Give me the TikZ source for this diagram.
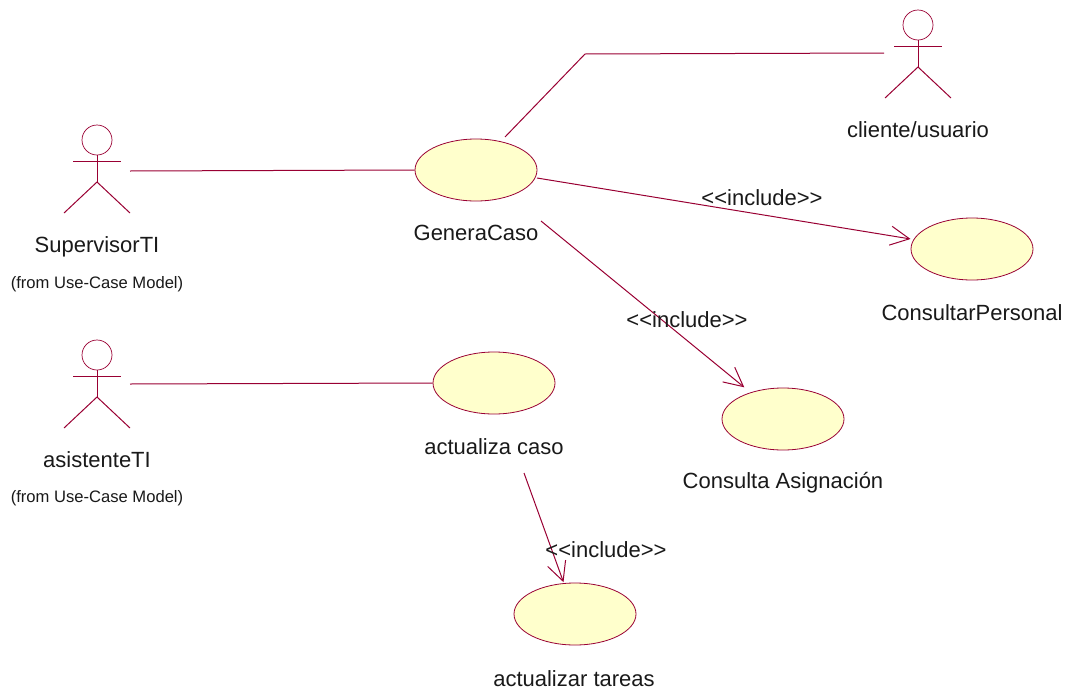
\documentclass[tikz,border=0pt]{standalone}
\usepackage{fontspec}
\setmainfont{Liberation Sans}
\usepackage{xcolor}
\usetikzlibrary{shapes}
\usetikzlibrary{arrows.meta}
\usetikzlibrary{calc}
\definecolor{umlline}{HTML}{990033}
\definecolor{umlfill}{HTML}{FFFFCC}
\tikzset{myline/.style={draw=umlline, line width=1pt}}
\tikzset{myhead/.style={myline, circle, minimum size=30pt, inner sep=0pt, line width=0.7pt}}
\tikzset{mycase/.style={myline, ellipse, fill=umlfill, minimum width=122pt, minimum height=62pt, inner sep=0pt, line width=0.8pt}}
\tikzset{mylabel/.style={font=\fontsize{22}{24}\selectfont, inner sep=0pt, text=black!90}}
\tikzset{myfrom/.style={font=\fontsize{16.6}{19}\selectfont, inner sep=0pt, text=black!90}}
\tikzset{myinclude/.style={myline, -{Straight Barb[length=19pt, width=19pt, line width=1pt]}}}
\begin{document}
\begin{tikzpicture}[x=1pt, y=-1pt]

\useasboundingbox (0,0) rectangle (1072,691);

\foreach \name/\x/\y in {supervisor/97/140, asistente/97/355, cliente/918/25} {
  \node[myhead] (\name head) at (\x, \y) {};
  \coordinate (\name neck) at (\x, \y+15);
  \coordinate (\name hip) at (\x, \y+42);
  \coordinate (\name armL) at (\x-24, \y+21);
  \coordinate (\name armR) at (\x+24, \y+21);
  \coordinate (\name legL) at (\x-33, \y+73);
  \coordinate (\name legR) at (\x+33, \y+73);
  \draw[myline] (\name neck) -- (\name hip);
  \draw[myline] (\name armL) -- (\name armR);
  \draw[myline] (\name legL) -- (\name hip) -- (\name legR);
}

\node[mycase] (generaCaso) at (476, 170) {};
\node[mycase] (actualizaCaso) at (494, 383) {};
\node[mycase] (consultarPersonal) at (972, 249) {};
\node[mycase] (consultaAsignacion) at (783, 419) {};
\node[mycase] (actualizarTareas) at (575, 614) {};

\node[mylabel] (supervisorLbl) at (97, 247) {SupervisorTI};
\node[myfrom] (supervisorFrom) at (97, 284) {(from Use-Case Model)};
\node[mylabel] (asistenteLbl) at (97, 460) {asistenteTI};
\node[myfrom] (asistenteFrom) at (97, 498) {(from Use-Case Model)};
\node[mylabel] (clienteLbl) at (918, 130) {cliente/usuario};
\node[mylabel] (generaLbl) at (476, 233) {GeneraCaso};
\node[mylabel] (actualizaLbl) at (494, 447) {actualiza caso};
\node[mylabel] (consultarLbl) at (972, 313) {ConsultarPersonal};
\node[mylabel] (consultaLbl) at (783, 483) {Consulta Asignación};
\node[mylabel] (tareasLbl) at (574, 679) {actualizar tareas};

\coordinate (supervisorEnd) at (130, 171);
\coordinate (asistenteEnd) at (130, 384);
\coordinate (clienteEnd) at (884, 53);
\coordinate (generaTop) at (505, 137);
\coordinate (clienteBend) at (585, 54);
\coordinate (generaRight) at (537, 178);
\coordinate (generaBelow) at (541, 221);
\coordinate (actualizaBelow) at (524, 473);

\draw[myline] (supervisorEnd) -- (generaCaso.west);
\draw[myline] (asistenteEnd) -- (actualizaCaso.west);
\draw[myline] (generaTop) -- (clienteBend) -- (clienteEnd);

\draw[myinclude, shorten >=3pt] (generaRight) -- (consultarPersonal);
\draw[myinclude, shorten >=8pt] (generaBelow) -- (consultaAsignacion);
\draw[myinclude, shorten >=1pt] (actualizaBelow) -- (actualizarTareas);

\node[mylabel] (includeA) at (762, 198) {<{}<include>{}>};
\node[mylabel] (includeB) at (687, 320) {<{}<include>{}>};
\node[mylabel] (includeC) at (606, 550) {<{}<include>{}>};

\end{tikzpicture}
\end{document}
